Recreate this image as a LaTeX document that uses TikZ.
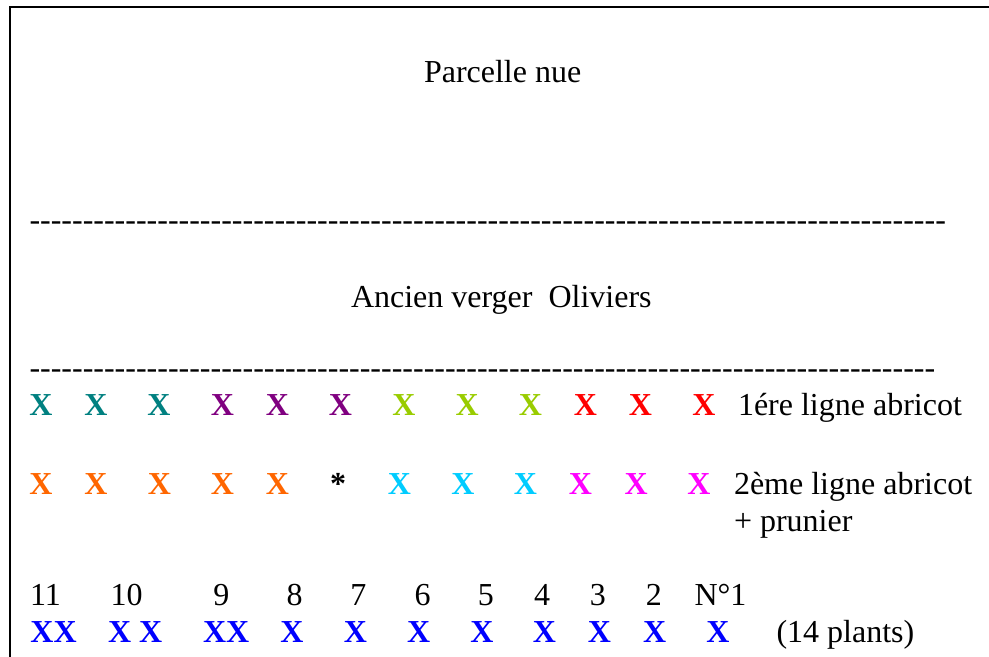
\documentclass[tikz,border=0pt]{standalone}
\usepackage{fontspec}
\setmainfont{Liberation Serif}
\definecolor{cteal}{RGB}{0,128,128}
\definecolor{cpurple}{RGB}{128,0,128}
\definecolor{clime}{RGB}{153,204,0}
\definecolor{cred}{RGB}{255,0,0}
\definecolor{corange}{RGB}{255,102,0}
\definecolor{ccyan}{RGB}{0,204,255}
\definecolor{cmagenta}{RGB}{255,0,255}
\definecolor{cblue}{RGB}{0,0,255}
\newcommand\dashrow[1]{\foreach \k in {1,...,#1}{-{}}}
\begin{document}
\begin{tikzpicture}[x=0.5pt,y=-0.5pt,
  every node/.style={inner sep=0pt,outer sep=0pt,font=\fontsize{16}{18.4}\selectfont},
  txt/.style={anchor=base west},
  mk/.style={anchor=base,font=\fontsize{16}{18.4}\selectfont\bfseries},
  mkw/.style={anchor=base west,font=\fontsize{16}{18.4}\selectfont\bfseries},
  num/.style={anchor=base}]
\useasboundingbox (0,0) rectangle (989,657);
\draw[line width=1pt] (10,657) -- (10,7) -- (989,7);

\node[txt] (parcelle) at (424,83) {Parcelle nue};
\node[txt] (dash1) at (29.5,231) {\dashrow{86}};
\node[txt] (ancien) at (351,307) {Ancien verger~ Oliviers};
\node[txt] (dash2) at (29.5,378) {\dashrow{85}};

% row 1
\foreach \x/\c [count=\i] in {41/cteal,96/cteal,159/cteal,222.5/cpurple,277.5/cpurple,340.5/cpurple,403.8/clime,467.2/clime,530.3/clime,585.3/cred,640.5/cred,704/cred}
  \node[mk,text=\c] (ra\i) at (\x,415) {X};
\node[txt] (lab1) at (738,415) {1ére ligne abricot};

% row 2
\foreach \x/\c [count=\i] in {41/corange,96/corange,159.5/corange,222.5/corange,277.5/corange,399.5/ccyan,462.8/ccyan,525.5/ccyan,580.5/cmagenta,636.2/cmagenta,699/cmagenta}
  \node[mk,text=\c] (rb\i) at (\x,494) {X};
\node[mk] (star) at (338,494) {*};
\node[txt] (lab2) at (734,494) {2ème ligne abricot};
\node[txt] (lab3) at (734,531) {+ prunier};

% numbers
\foreach \x/\t [count=\i] in {45.5/11,126.7/10,221.3/9,294.5/8,358.3/7,422.5/6,485.8/5,542/4,597.8/3,653.8/2}
  \node[num] (n\i) at (\x,605) {\t};
\node[txt] (n11) at (694.5,605) {N°1};

% row 3
\node[mkw,text=cblue] (rc1) at (30.4,642) {XX};
\node[mkw,text=cblue] (rc2) at (108,642) {X X};
\node[mkw,text=cblue] (rc3) at (203,642) {XX};
\foreach \x [count=\i from 4] in {292,355.5,418.7,482,544.5,599.5,654.7,718}
  \node[mk,text=cblue] (rc\i) at (\x,642) {X};
\node[txt] (plants) at (776.5,642) {(14 plants)};
\end{tikzpicture}
\end{document}
